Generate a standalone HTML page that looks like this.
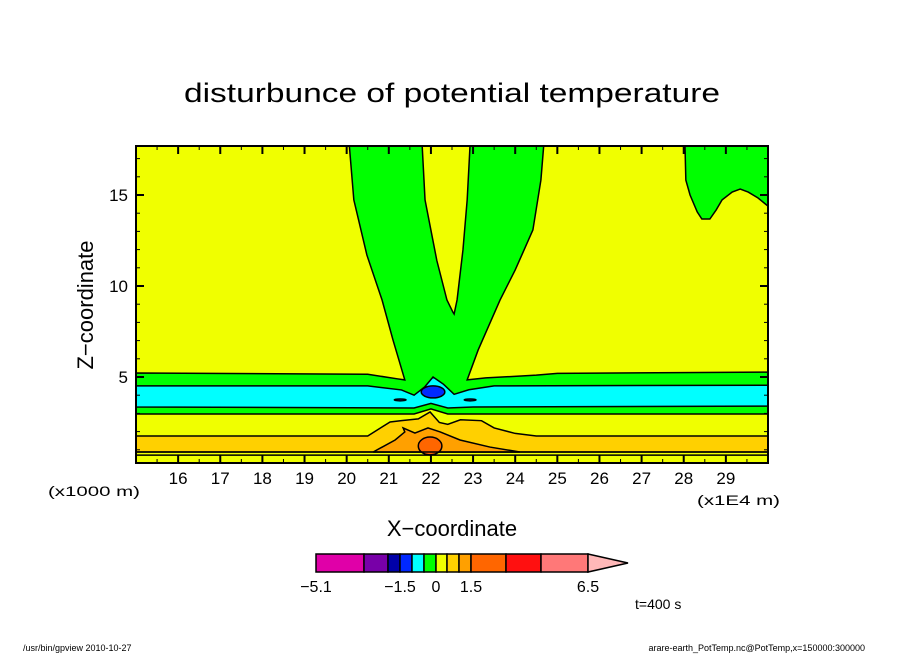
<!DOCTYPE html>
<html><head><meta charset="utf-8"><style>
html,body{margin:0;padding:0;background:#fff;}
svg{display:block;font-family:"Liberation Sans",sans-serif;}
</style></head><body>
<svg id="chart" width="904" height="654" viewBox="0 0 904 654" xmlns="http://www.w3.org/2000/svg">
<rect width="904" height="654" fill="#fff"/>
<text x="184" y="102" font-size="27" textLength="536" lengthAdjust="spacingAndGlyphs">disturbunce of potential temperature</text>
<defs><clipPath id="pc"><rect x="136" y="146" width="632" height="317"/></clipPath></defs>
<g id="plot" clip-path="url(#pc)"></g>
<rect x="136" y="146" width="632" height="317" fill="none" stroke="#000" stroke-width="2"/>
<g id="axes"></g>
<text x="48" y="496" font-size="14" textLength="92" lengthAdjust="spacingAndGlyphs">(x1000 m)</text>
<text x="697" y="505" font-size="14" textLength="83" lengthAdjust="spacingAndGlyphs">(x1E4 m)</text>
<text x="452" y="536" font-size="22" text-anchor="middle">X−coordinate</text>
<text transform="translate(93,305) rotate(-90)" font-size="22" text-anchor="middle">Z−coordinate</text>
<g id="cbar"></g>
<text x="635" y="609" font-size="14">t=400 s</text>
<text x="23" y="651" font-size="9">/usr/bin/gpview   2010-10-27</text>
<text x="865" y="651" font-size="9" text-anchor="end">arare-earth_PotTemp.nc@PotTemp,x=150000:300000</text>
</svg>
<script>
const xTicks=[16,17,18,19,20,21,22,23,24,25,26,27,28,29];
const yTicks=[5,10,15];
const cbColors=["#e000a8","#7800a8","#0000a8","#0028ff","#00ffff","#00ff00","#f0ff00","#ffd000","#ffa000","#ff6600","#ff1010","#ff7878"];
const cbLevels=[-5.1,-3.1,-2.1,-1.5,-1.0,-0.5,0,0.5,1.0,1.5,3.0,4.5,6.5];
const cbLabels=["−5.1","−1.5","0","1.5","6.5"];
const cbLabelIdx=[0,3,6,9,12];
const greenMain=[[15,5.22],[20.5,5.15],[21.2,4.9],[21.38,4.84],[21.1,7.03],[20.84,9.23],[20.48,11.7],[20.17,14.73],[20.06,17.8],[21.79,17.8],[21.86,14.73],[22.14,11.4],[22.38,9.23],[22.52,8.57],[22.55,8.46],[22.62,9.23],[22.76,11.98],[22.86,14.73],[22.93,17.8],[24.68,17.8],[24.61,15.82],[24.42,13.08],[24.0,10.88],[23.64,9.23],[23.12,6.48],[22.86,4.84],[23.3,4.95],[24.5,5.1],[25,5.2],[30.1,5.27],[30.1,2.97],[22.4,2.97],[22.0,3.25],[21.6,2.97],[15,2.97]];
const cyanBand=[[15,4.51],[20.5,4.51],[21.3,4.29],[21.6,4.0],[21.85,4.45],[22.05,5.0],[22.3,4.6],[22.55,4.05],[22.9,4.3],[23.5,4.51],[30.1,4.55],[30.1,3.4],[23,3.35],[22.4,3.3],[22.0,3.55],[21.6,3.3],[15,3.35]];
const greenTopRight=[[28.03,17.8],[28.03,17.69],[28.05,15.82],[28.15,15.0],[28.32,14.07],[28.43,13.68],[28.62,13.68],[28.77,14.18],[28.91,14.73],[29.15,15.16],[29.34,15.33],[29.53,15.16],[29.76,14.84],[30.1,14.2],[30.1,17.8]];
const goldBand=[[15,1.76],[20.5,1.76],[21.03,2.53],[21.3,2.6],[21.7,2.7],[21.98,3.08],[22.2,2.5],[22.4,2.4],[22.7,2.65],[23.2,2.6],[23.5,2.2],[24.0,1.9],[24.5,1.76],[30.1,1.76],[30.1,0.88],[15,0.88]];
const orangeReg=[[20.63,0.88],[21.15,1.54],[21.38,1.98],[21.34,2.2],[21.62,1.92],[21.93,2.2],[22.22,1.98],[22.69,1.54],[23.4,1.15],[24.11,0.88]];
const blobs=[{cx:22.05,cz:4.18,rx:0.28,rz:0.33,c:"#0028ff",n:"blue-blob"},{cx:21.27,cz:3.74,rx:0.14,rz:0.05,c:"#0028ff",n:"blue-dash-left"},{cx:22.93,cz:3.74,rx:0.14,rz:0.05,c:"#0028ff",n:"blue-dash-right"},{cx:21.98,cz:1.21,rx:0.28,rz:0.49,c:"#ff6600",n:"red-orange-blob"}];
const lowLines=[0.88,0.71];

const X0=136,X1=768,Y0=463,Y1=146,xmin=15,xmax=30;
function sx(v){return X0+(v-xmin)*(X1-X0)/(xmax-xmin);}
function sy(v){return 377-(v-5)*18.2;}
const NS="http://www.w3.org/2000/svg";
const plot=document.getElementById('plot'),axes=document.getElementById('axes'),cbar=document.getElementById('cbar');
function mk(t,a,p){const e=document.createElementNS(NS,t);for(const k in a)e.setAttribute(k,a[k]);p.appendChild(e);return e;}
const bg=mk('rect',{x:X0,y:Y1,width:X1-X0,height:Y0-Y1,fill:"#f0ff00"},plot);


function poly(pts,fill,name){const e=mk('polygon',{points:pts.map(p=>sx(p[0])+","+sy(p[1])).join(" "),fill:fill,stroke:"#000","stroke-width":1.5},plot);

}
poly(goldBand,"#ffd000","gold-band");
poly(orangeReg,"#ffa000","orange-region");
poly(greenMain,"#00ff00","green-region");
poly(cyanBand,"#00ffff","cyan-band");
poly(greenTopRight,"#00ff00","green-top-right");
blobs.forEach(b=>{const e=mk('ellipse',{cx:sx(b.cx),cy:sy(b.cz),rx:sx(b.cx+b.rx)-sx(b.cx),ry:sy(b.cz-b.rz)-sy(b.cz),fill:b.c,stroke:"#000","stroke-width":1.5},plot);

});
lowLines.forEach(v=>{const e=mk('line',{x1:X0,x2:X1,y1:sy(v),y2:sy(v),stroke:"#000","stroke-width":1.5},plot);

});
for(let v=xmin;v<=xmax;v+=0.5){const maj=Number.isInteger(v);const L=maj?8:4;const x=sx(v);
mk('line',{x1:x,x2:x,y1:Y0,y2:Y0-L,stroke:"#000","stroke-width":maj?2:1},axes);
mk('line',{x1:x,x2:x,y1:Y1,y2:Y1+L,stroke:"#000","stroke-width":maj?2:1},axes);}
xTicks.forEach(v=>{const t=mk('text',{x:sx(v),y:484,"font-size":17,"text-anchor":"middle"},axes);t.textContent=v;

});
for(let v=1;v<=17;v++){const maj=v%5===0;const L=maj?8:4;const y=sy(v);
mk('line',{x1:X0,x2:X0+L,y1:y,y2:y,stroke:"#000","stroke-width":maj?2:1},axes);
mk('line',{x1:X1,x2:X1-L,y1:y,y2:y,stroke:"#000","stroke-width":maj?2:1},axes);}
yTicks.forEach(v=>{const t=mk('text',{x:128,y:sy(v)+6,"font-size":17,"text-anchor":"end"},axes);t.textContent=v;

});
const CB0=316,CB1=588;
function cx(i){const w=[0,48,72,84,96,108,120,131,143,155,190,225,272];return CB0+w[i];}
cbColors.forEach((c,i)=>{const e=mk('rect',{x:cx(i),y:554,width:cx(i+1)-cx(i),height:18,fill:c,stroke:"#000","stroke-width":1.5},cbar);

});
const tri=mk('polygon',{points:`${CB1},554 628,563 ${CB1},572`,fill:"#ffb8b8",stroke:"#000","stroke-width":1.5},cbar);


cbLabels.forEach((s,k)=>{const t=mk('text',{x:cx(cbLabelIdx[k]),y:592,"font-size":16,"text-anchor":"middle"},cbar);t.textContent=s;

});
</script>
</body></html>
